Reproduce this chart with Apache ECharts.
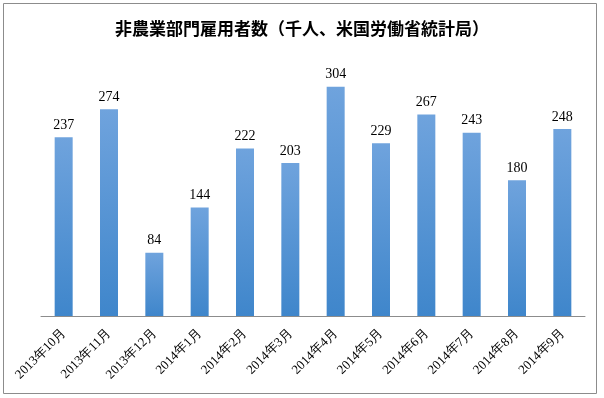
<!DOCTYPE html>
<html>
<head>
<meta charset="utf-8">
<script src="https://cdn.jsdelivr.net/npm/echarts@6/dist/echarts.min.js"></script>
<style>
  html, body { margin: 0; padding: 0; background: #fff; }
  #chart { width: 604px; height: 398px; }
</style>
</head>
<body>
<div id="chart"></div>
<script>
const months = ['2013年10月', '2013年11月', '2013年12月', '2014年1月', '2014年2月', '2014年3月',
  '2014年4月', '2014年5月', '2014年6月', '2014年7月', '2014年8月', '2014年9月'];
const payrolls = [237, 274, 84, 144, 222, 203, 304, 229, 267, 243, 180, 248];

const myChart = echarts.init(document.getElementById('chart'));

const option = {
  animation: false,
  title: {
    text: '非農業部門雇用者数（千人、米国労働省統計局）',
    left: 'center',
    top: 15,
    textStyle: {
      fontFamily: 'Noto Sans CJK JP',
      fontSize: 17,
      fontWeight: 'bold',
      color: '#000'
    }
  },
  graphic: [
    {
      type: 'rect',
      shape: { x: 3.5, y: 3.5, width: 593, height: 390 },
      style: { fill: 'none', stroke: '#8c8c8c', lineWidth: 1 },
      silent: true
    }
  ],
  grid: { left: 41, right: 19, top: 52, bottom: 82 },
  xAxis: {
    type: 'category',
    data: months,
    axisLine: { lineStyle: { color: '#8c8c8c', width: 1 } },
    axisTick: { show: false },
    axisLabel: {
      rotate: 45,
      interval: 0,
      margin: 15,
      fontFamily: 'Liberation Serif',
      fontSize: 13,
      color: '#000'
    }
  },
  yAxis: {
    type: 'value',
    min: 0,
    max: 350,
    show: false,
    splitLine: { show: false }
  },
  series: [
    {
      type: 'bar',
      data: payrolls,
      barWidth: 18,
      itemStyle: {
        color: new echarts.graphic.LinearGradient(0, 0, 0, 1, [
          { offset: 0, color: '#6fa3dd' },
          { offset: 1, color: '#3f86cb' }
        ])
      },
      label: {
        show: true,
        position: 'top',
        distance: 5,
        fontFamily: 'Liberation Serif',
        fontSize: 14,
        color: '#000'
      }
    }
  ]
};

option && myChart.setOption(option);
</script>
</body>
</html>
